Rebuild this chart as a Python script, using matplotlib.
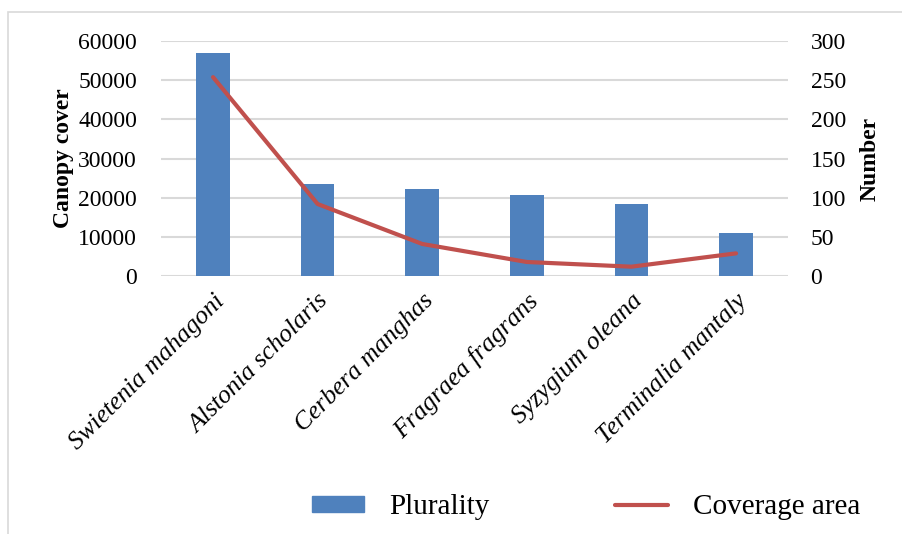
import numpy as np
import matplotlib.pyplot as plt
from matplotlib.patches import Rectangle
from matplotlib.lines import Line2D

species = ["Swietenia mahagoni", "Alstonia scholaris", "Cerbera manghas",
           "Fragraea fragrans", "Syzygium oleana", "Terminalia mantaly"]
plurality = [57000, 23500, 22200, 20700, 18400, 11000]
coverage = [254, 92, 41, 18, 12, 29]
left_ticks = [0, 10000, 20000, 30000, 40000, 50000, 60000]
right_ticks = [0, 50, 100, 150, 200, 250, 300]

bar_color = "#4F81BD"
line_color = "#C0504D"
grid_color = "#D9D9D9"

plt.rcParams["font.family"] = ["Liberation Serif", "DejaVu Serif"]

fig = plt.figure(figsize=(9.03, 5.34), dpi=100)
ax = fig.add_axes([0.178, 0.483, 0.695, 0.44])
ax2 = ax.twinx()

x = np.arange(len(species))
ax.bar(x, plurality, width=0.32, color=bar_color, zorder=2)
ax2.plot(x, coverage, color=line_color, lw=3, solid_capstyle="round", zorder=3)

ax.set_xlim(-0.5, len(species) - 0.5)
ax.set_ylim(0, 60000)
ax2.set_ylim(0, 300)
ax.set_yticks(left_ticks)
ax2.set_yticks(right_ticks)
ax.yaxis.grid(True, color=grid_color, lw=1.5, zorder=0)
ax.set_axisbelow(True)

for a in (ax, ax2):
    for s in a.spines.values():
        s.set_visible(False)
    a.tick_params(length=0, labelsize=17)
ax.tick_params(axis="y", pad=17)
ax2.tick_params(axis="y", pad=16)

ax.set_xticks(x)
ax.set_xticklabels(species, rotation=45, ha="right", rotation_mode="anchor",
                   style="italic", fontsize=18.5)
ax.tick_params(axis="x", pad=10)

ax.set_ylabel("Canopy cover", fontsize=17, fontweight="bold", labelpad=3)
ax2.set_ylabel("Number", fontsize=17, fontweight="bold", labelpad=10)

# outer chart frame
fig.patches.append(Rectangle((8 / 903, -0.1), 1.2, 1 - 12 / 534 + 0.1,
                             transform=fig.transFigure, fill=False,
                             edgecolor=grid_color, lw=1.2))

handles = [Rectangle((0, 0), 1, 1, color=bar_color),
           Line2D([], [], color=line_color, lw=3, solid_capstyle="round")]
fig.legend(handles, ["Plurality", "Coverage area"], loc="center",
           bbox_to_anchor=(0.649, 0.05), ncol=2, frameon=False, fontsize=21,
           handlelength=1.8, handleheight=0.5, handletextpad=0.86,
           columnspacing=4.3)

fig.savefig("out.png", dpi=100)
